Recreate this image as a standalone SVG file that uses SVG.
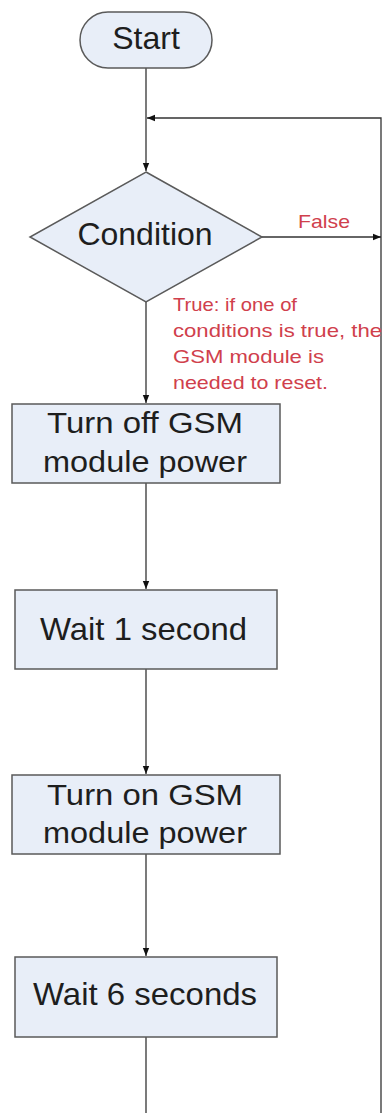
<svg xmlns="http://www.w3.org/2000/svg" width="383" height="1113" viewBox="0 0 383 1113">
<style>
.node{fill:#e8eef8;stroke:#5a5a5a;stroke-width:1.5}
.t{font-family:"Liberation Sans",Arial,sans-serif;fill:#1e1e1e}
.lab{font-family:"Liberation Sans",Arial,sans-serif;fill:#d0404c;font-size:19px}
.c{fill:none;stroke:#333;stroke-width:1.3}
</style>
<defs>
<marker id="ah" viewBox="0 0 10 10" refX="10" refY="5" markerWidth="8" markerHeight="8" markerUnits="userSpaceOnUse" orient="auto">
<path d="M0,1 L10,5 L0,9 Z" fill="#111"/>
</marker>
</defs>
<rect width="383" height="1113" fill="#fff"/>
<g id="connectors">
<line class="c" x1="146" y1="68" x2="146" y2="171" marker-end="url(#ah)"/>
<polyline class="c" points="381,1113 381,118 147,118" marker-end="url(#ah)"/>
<line class="c" x1="262" y1="237" x2="381" y2="237" marker-end="url(#ah)"/>
<line class="c" x1="146" y1="302" x2="146" y2="403" marker-end="url(#ah)"/>
<line class="c" x1="146" y1="483" x2="146" y2="589" marker-end="url(#ah)"/>
<line class="c" x1="146" y1="669" x2="146" y2="774" marker-end="url(#ah)"/>
<line class="c" x1="146" y1="854" x2="146" y2="956" marker-end="url(#ah)"/>
<line class="c" x1="146" y1="1037" x2="146" y2="1113"/>
<text class="lab" x="298" y="228" font-size="21" textLength="52" lengthAdjust="spacingAndGlyphs">False</text>
<text class="lab" x="173" y="311" textLength="124" lengthAdjust="spacingAndGlyphs">True: if one of</text>
<text class="lab" x="173" y="337" textLength="209" lengthAdjust="spacingAndGlyphs">conditions is true, the</text>
<text class="lab" x="173" y="363" textLength="151" lengthAdjust="spacingAndGlyphs">GSM module is</text>
<text class="lab" x="173" y="389" textLength="155" lengthAdjust="spacingAndGlyphs">needed to reset.</text>
</g>
<g id="start">
<rect class="node" x="80" y="12" width="132" height="56" rx="28" ry="28"/>
<text class="t" x="146" y="49" font-size="32" text-anchor="middle">Start</text>
</g>
<g id="condition">
<polygon class="node" points="146,172 262,237 146,302 30,237"/>
<text class="t" x="145" y="245" font-size="32" text-anchor="middle">Condition</text>
</g>
<g id="turn-off">
<rect class="node" x="12" y="404" width="268" height="79"/>
<text class="t" x="47" y="433" font-size="30" textLength="196" lengthAdjust="spacingAndGlyphs">Turn off GSM</text>
<text class="t" x="43" y="472" font-size="30" textLength="204" lengthAdjust="spacingAndGlyphs">module power</text>
</g>
<g id="wait1">
<rect class="node" x="15" y="590" width="262" height="79"/>
<text class="t" x="40" y="640" font-size="32" textLength="207" lengthAdjust="spacingAndGlyphs">Wait 1 second</text>
</g>
<g id="turn-on">
<rect class="node" x="12" y="775" width="268" height="79"/>
<text class="t" x="47" y="805" font-size="30" textLength="196" lengthAdjust="spacingAndGlyphs">Turn on GSM</text>
<text class="t" x="43" y="843" font-size="30" textLength="204" lengthAdjust="spacingAndGlyphs">module power</text>
</g>
<g id="wait6">
<rect class="node" x="15" y="957" width="262" height="80"/>
<text class="t" x="33" y="1005" font-size="32" textLength="224" lengthAdjust="spacingAndGlyphs">Wait 6 seconds</text>
</g>
</svg>
